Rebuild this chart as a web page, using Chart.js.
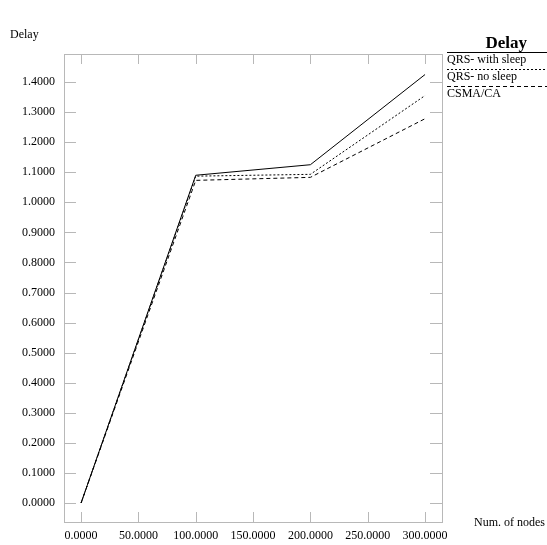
<!DOCTYPE html>
<html>
<head>
<meta charset="utf-8">
<script src="https://cdn.jsdelivr.net/npm/chart.js@4"></script>
<style>
  html, body { margin: 0; padding: 0; background: #fff; }
  #wrap { width: 547px; height: 545px; }
</style>
</head>
<body>
<div id="wrap"><canvas id="delayChart"></canvas></div>
<script>
// data
const nodes = [0, 100, 200, 300];
const withSleep = [0, 1.090, 1.125, 1.425];
const noSleep = [0, 1.087, 1.093, 1.355];
const csmaCa = [0, 1.073, 1.083, 1.278];
const seriesNames = ['QRS- with sleep', 'QRS- no sleep', 'CSMA/CA'];
const xTicks = [0, 50, 100, 150, 200, 250, 300];
const yTicks = [0, 0.1, 0.2, 0.3, 0.4, 0.5, 0.6, 0.7, 0.8, 0.9, 1.0, 1.1, 1.2, 1.3, 1.4];

const serif = "'Liberation Serif', 'DejaVu Serif', serif";
const dashes = [[], [2, 2], [4, 3]];

// box, inner tick marks, titles and legend
const framePlugin = {
    id: 'frame',
    afterDraw(chart) {
        const ctx = chart.ctx;
        const a = chart.chartArea;
        const sx = chart.scales.x, sy = chart.scales.y;
        ctx.save();
        ctx.strokeStyle = '#b8b8b8';
        ctx.lineWidth = 1;
        ctx.strokeRect(a.left + 0.5, a.top + 0.5, a.right - a.left, a.bottom - a.top);
        ctx.beginPath();
        xTicks.forEach(v => {
            const px = Math.round(sx.getPixelForValue(v)) + 0.5;
            ctx.moveTo(px, a.top); ctx.lineTo(px, a.top + 10);
            ctx.moveTo(px, a.bottom); ctx.lineTo(px, a.bottom - 10);
        });
        yTicks.forEach(v => {
            const py = Math.round(sy.getPixelForValue(v)) + 0.5;
            ctx.moveTo(a.left, py); ctx.lineTo(a.left + 12, py);
            ctx.moveTo(a.right, py); ctx.lineTo(a.right - 12, py);
        });
        ctx.stroke();

        ctx.fillStyle = '#000';
        ctx.font = 'bold 17px ' + serif;
        ctx.textAlign = 'right';
        ctx.textBaseline = 'middle';
        ctx.fillText('Delay', 527, 44);

        ctx.font = '12px ' + serif;
        ctx.textAlign = 'left';
        ctx.fillText('Delay', 10, 35);
        ctx.fillText('Num. of nodes', 474, 523);

        // legend
        chart.data.datasets.forEach((ds, i) => {
            const ly = 52.5 + i * 17;
            ctx.strokeStyle = '#000';
            ctx.setLineDash(dashes[i]);
            ctx.beginPath();
            ctx.moveTo(447, ly); ctx.lineTo(547, ly);
            ctx.stroke();
            ctx.setLineDash([]);
            ctx.fillText(ds.label, 447, ly + 7);
        });
        ctx.restore();
    }
};

new Chart(document.getElementById('delayChart'), {
    type: 'line',
    data: {
        datasets: [
            { label: seriesNames[0], data: nodes.map((x, i) => ({ x: x, y: withSleep[i] })), borderDash: dashes[0] },
            { label: seriesNames[1], data: nodes.map((x, i) => ({ x: x, y: noSleep[i] })), borderDash: dashes[1] },
            { label: seriesNames[2], data: nodes.map((x, i) => ({ x: x, y: csmaCa[i] })), borderDash: dashes[2] }
        ].map(ds => Object.assign(ds, {
            borderColor: '#000',
            borderWidth: 1,
            pointRadius: 0,
            tension: 0,
            fill: false
        }))
    },
    options: {
        responsive: true,
        maintainAspectRatio: false,
        animation: false,
        layout: { padding: { top: 54, right: 105, left: 0, bottom: 0 } },
        plugins: {
            legend: { display: false },
            title: { display: false },
            tooltip: { enabled: false }
        },
        scales: {
            x: {
                type: 'linear',
                min: -14.9,
                max: 314.8,
                afterBuildTicks: s => { s.ticks = xTicks.map(v => ({ value: v })); },
                afterFit: s => { s.height = 23; },
                grid: { display: false, drawTicks: false },
                border: { display: false },
                ticks: {
                    color: '#000',
                    font: { family: serif, size: 12 },
                    padding: 7,
                    maxRotation: 0,
                    callback: v => v.toFixed(4)
                }
            },
            y: {
                type: 'linear',
                min: -0.0633,
                max: 1.4933,
                afterBuildTicks: s => { s.ticks = yTicks.map(v => ({ value: v })); },
                afterFit: s => { s.width = 64; },
                grid: { display: false, drawTicks: false },
                border: { display: false },
                ticks: {
                    color: '#000',
                    font: { family: serif, size: 12 },
                    padding: 9,
                    callback: v => v.toFixed(4)
                }
            }
        }
    },
    plugins: [framePlugin]
});
</script>
</body>
</html>
